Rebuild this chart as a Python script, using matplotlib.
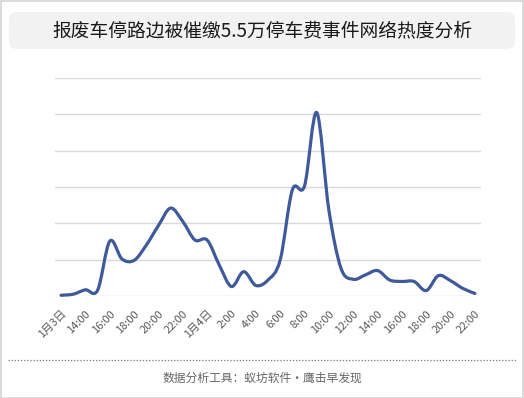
import matplotlib
matplotlib.use("Agg")
import matplotlib.pyplot as plt
from matplotlib.path import Path
from matplotlib.patches import PathPatch, FancyBboxPatch, Rectangle
from matplotlib.lines import Line2D

plt.rcParams['font.family'] = ['Noto Sans CJK SC', 'DejaVu Sans']

title = "报废车停路边被催缴5.5万停车费事件网络热度分析"
footer = "数据分析工具：蚁坊软件・鹰击早发现"

# hourly points, 1月3日 12:00 -> 1月4日 22:00
values = [0.2, 0.5, 1.7, 1.6, 15.1, 10.2, 9.8, 14.0, 19.4, 24.2,
          20.5, 15.4, 15.4, 8.5, 2.6, 6.7, 2.9, 4.4, 9.9, 29.2,
          30.3, 50.5, 23.7, 7.6, 4.6, 5.8, 7.0, 4.4, 4.0, 4.0,
          1.5, 5.6, 4.2, 2.1, 0.7]
tick_labels = ["1月3日", "14:00", "16:00", "18:00", "20:00", "22:00",
               "1月4日", "2:00", "4:00", "6:00", "8:00", "10:00",
               "12:00", "14:00", "16:00", "18:00", "20:00", "22:00"]

W, H = 524, 398
fig = plt.figure(figsize=(W / 100, H / 100), dpi=100)
fig.patch.set_facecolor("white")

# outer border
fig.add_artist(Rectangle((0.5 / W, 0.5 / H), (W - 1.5) / W, (H - 1.5) / H,
                         transform=fig.transFigure, fill=False,
                         edgecolor="#d4d4d4", linewidth=1.2))

# title box
fig.add_artist(FancyBboxPatch((9 / W, 1 - 49 / H), (W - 18) / W, 37 / H,
                              boxstyle="round,pad=0,rounding_size=0.015",
                              transform=fig.transFigure, facecolor="#f2f2f2",
                              edgecolor="none", mutation_aspect=W / H))
fig.text(0.5, 1 - 30.5 / H, title, ha="center", va="center",
         fontsize=13.5, color="#1a1a1a")

# axes
left, right, top, bottom = 55, 481, 78, 296
ax = fig.add_axes([left / W, 1 - bottom / H, (right - left) / W, (bottom - top) / H])
n = len(values)
ax.set_xlim(-0.5, n - 0.5)
ax.set_ylim(0, 60)
ax.set_yticks(range(0, 61, 10))
ax.yaxis.grid(True, color="#d9d9d9", linewidth=1.0)
ax.set_axisbelow(True)
ax.tick_params(axis="y", left=False, labelleft=False)
for s in ax.spines.values():
    s.set_visible(False)
ax.set_facecolor("none")

xs = list(range(n))
ax.set_xticks(xs[::2])
ax.set_xticklabels(tick_labels, rotation=45, ha="right", rotation_mode="anchor",
                   fontsize=8, color="#595959")
ax.tick_params(axis="x", length=0, pad=9)

# smoothed line (Catmull-Rom as cubic Bezier)
pts = list(zip(xs, values))
verts = [pts[0]]
codes = [Path.MOVETO]
for i in range(n - 1):
    p0 = pts[i - 1] if i > 0 else pts[i]
    p1 = pts[i]
    p2 = pts[i + 1]
    p3 = pts[i + 2] if i + 2 < n else pts[i + 1]
    c1 = (p1[0] + (p2[0] - p0[0]) / 6, p1[1] + (p2[1] - p0[1]) / 6)
    c2 = (p2[0] - (p3[0] - p1[0]) / 6, p2[1] - (p3[1] - p1[1]) / 6)
    verts += [c1, c2, p2]
    codes += [Path.CURVE4] * 3
ax.add_patch(PathPatch(Path(verts, codes), facecolor="none",
                       edgecolor="#3f5a9b", linewidth=2.3, capstyle="round",
                       joinstyle="round", clip_on=False))

# footer
fig.add_artist(Line2D([8 / W, (W - 8) / W], [1 - 360 / H, 1 - 360 / H],
                      transform=fig.transFigure, color="#777777",
                      linewidth=0.9, linestyle=(0, (1, 1.5))))
fig.text(0.5, 1 - 378 / H, footer, ha="center", va="center",
         fontsize=8.5, color="#666666")

fig.savefig("out.png", dpi=100)
